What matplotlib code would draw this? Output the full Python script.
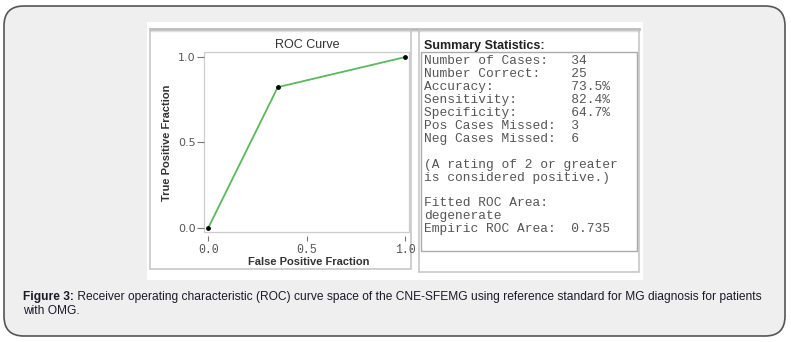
import matplotlib
matplotlib.use('Agg')
import matplotlib.pyplot as plt
from matplotlib.patches import FancyBboxPatch, Rectangle
from matplotlib.lines import Line2D

# --- Données ROC --------------------------------------------
fpr = [0.0, 0.353, 1.0]
tpr = [0.0, 0.824, 1.0]
x_ticks = [0.0, 0.5, 1.0]
y_ticks = [0.0, 0.5, 1.0]

stat_labels = ["Number of Cases:", "Number Correct:", "Accuracy:",
               "Sensitivity:", "Specificity:", "Pos Cases Missed:",
               "Neg Cases Missed:"]
stat_values = ["34", "25", "73.5%", "82.4%", "64.7%", "3", "6"]
note_lines = ["(A rating of 2 or greater", "is considered positive.)"]
area_lines = [("Fitted ROC Area:", ""), ("degenerate", ""),
              ("Empiric ROC Area:", "0.735")]

caption_bold = "Figure 3:"
caption_rest = (" Receiver operating characteristic (ROC) curve space of the "
                "CNE-SFEMG using reference standard for MG diagnosis for patients")
caption_line2 = "with OMG."

W, H = 791, 342


def fx(px):
    return px / W


def fy(py):
    return 1 - py / H


fig = plt.figure(figsize=(W / 100, H / 100), dpi=100)
fig.patch.set_facecolor("white")

# panneau gris arrondi
panel = FancyBboxPatch((fx(4), fy(336)), fx(781), (336 - 6) / H,
                       boxstyle="round,pad=0,rounding_size=0.025",
                       transform=fig.transFigure, facecolor="#efefef",
                       edgecolor="#555555", linewidth=1.2,
                       mutation_aspect=W / H, zorder=-3)
fig.patches.append(panel)

# zone blanche de la capture
fig.patches.append(Rectangle((fx(147), fy(280)), fx(496), (280 - 22) / H,
                             transform=fig.transFigure, facecolor="white",
                             edgecolor="none", zorder=-2))
# cadres gris des deux panneaux
fig.patches.append(Rectangle((fx(150), fy(269)), fx(261), (269 - 29) / H,
                             transform=fig.transFigure, facecolor="none",
                             edgecolor="#c2c2c2", linewidth=1.1, zorder=-1))
fig.patches.append(Rectangle((fx(419), fy(272)), fx(220), (272 - 29) / H,
                             transform=fig.transFigure, facecolor="none",
                             edgecolor="#c2c2c2", linewidth=1.1, zorder=-1))
fig.lines.append(Line2D([fx(150), fx(639)], [fy(29), fy(29)],
                        transform=fig.transFigure, color="#b0b0b0", lw=1.8,
                        zorder=-1))
fig.lines.append(Line2D([fx(150), fx(639)], [fy(31), fy(31)],
                        transform=fig.transFigure, color="#dedede", lw=1.0,
                        zorder=-1))

# --- Courbe ROC ---------------------------------------------
ax = fig.add_axes([fx(204), fy(232), fx(205), 180 / H])
for s in ax.spines.values():
    s.set_visible(False)
# axe x décalé sous le cadre, le cadre est tracé à part
ax.spines["bottom"].set_position(("outward", 3))
ax.add_patch(Rectangle((0, 0), 1, 1, transform=ax.transAxes, fill=False,
                       edgecolor="#cccccc", linewidth=0.9, clip_on=False))

ax.plot(fpr, tpr, color="#5cb85c", lw=1.3, zorder=2)
ax.scatter(fpr, tpr, s=6, color="black", zorder=3)
ax.set_xlim(-0.022, 1.02)
ax.set_ylim(-0.025, 1.03)
ax.set_xticks(x_ticks)
ax.set_yticks(y_ticks)
ax.set_xticklabels([f"{v:.1f}" for v in x_ticks], fontsize=8.3,
                   color="#555555", family="Liberation Mono")
ax.set_yticklabels([f"{v:.1f}" for v in y_ticks], fontsize=8,
                   color="#555555")
ax.tick_params(axis="x", length=3.5, width=0.8, color="#777777", pad=2,
               direction="out")
ax.tick_params(axis="y", length=5, width=0.8, color="#777777", pad=1)

fig.text(fx(307), fy(45), "ROC Curve", ha="center", va="center",
         fontsize=9, color="#333333", family="Liberation Sans")
fig.text(fx(309), fy(262), "False Positive Fraction", ha="center",
         va="center", fontsize=8, fontweight="bold", color="#333333",
         family="Liberation Sans")
fig.text(fx(167), fy(143), "True Positive Fraction", ha="center",
         va="center", rotation=90, fontsize=8, fontweight="bold",
         color="#333333", family="Liberation Sans")

# --- Statistiques -------------------------------------------
fig.text(fx(424), fy(46), "Summary Statistics:", ha="left", va="center",
         fontsize=9, fontweight="bold", color="#222222",
         family="Liberation Sans")
fig.patches.append(Rectangle((fx(421), fy(251)), fx(216), (251 - 52) / H,
                             transform=fig.transFigure, facecolor="none",
                             edgecolor="#aaaaaa", linewidth=1.0))

lines = [f"{l:<19}{v}" for l, v in zip(stat_labels, stat_values)]
lines += [""] + note_lines + [""]
lines += [f"{l:<19}{v}" if v else l for l, v in area_lines]
y0, dy = 61.5, 12.9
for i, txt in enumerate(lines):
    fig.text(fx(424), fy(y0 + i * dy), txt, ha="left", va="center",
             fontsize=9.3, color="#555555", family="Liberation Mono")

# --- Légende de la figure -----------------------------------
t1 = fig.text(fx(23), fy(297), caption_bold, ha="left", va="center",
              fontsize=8.65, fontweight="bold", color="#1b1b2a",
              family="Liberation Sans")
fig.canvas.draw()
bb = t1.get_window_extent()
fig.text(bb.x1 / W, fy(297), caption_rest, ha="left", va="center",
         fontsize=8.65, color="#1b1b2a", family="Liberation Sans")
fig.text(fx(23), fy(311), caption_line2, ha="left", va="center",
         fontsize=8.65, color="#1b1b2a", family="Liberation Sans")

fig.savefig("out.png", dpi=100)
